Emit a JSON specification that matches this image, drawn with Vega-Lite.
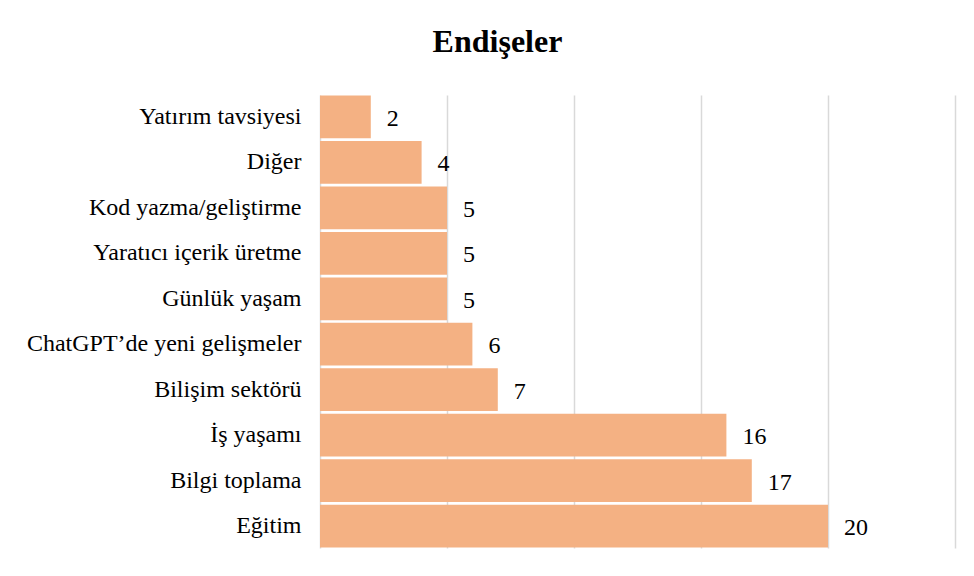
{
  "$schema": "https://vega.github.io/schema/vega-lite/v6.json",
  "width": 635,
  "height": 453,
  "autosize": {"type": "none"},
  "padding": {"left": 320, "top": 95, "right": 19, "bottom": 28},
  "background": "white",
  "title": {
    "text": "Endişeler",
    "font": "Liberation Serif",
    "fontSize": 32,
    "fontWeight": "bold",
    "color": "#000000",
    "anchor": "middle",
    "frame": "group",
    "dx": -140,
    "offset": 36
  },
  "data": {
    "values": [
      {"kategori": "Yatırım tavsiyesi", "deger": 2},
      {"kategori": "Diğer", "deger": 4},
      {"kategori": "Kod yazma/geliştirme", "deger": 5},
      {"kategori": "Yaratıcı içerik üretme", "deger": 5},
      {"kategori": "Günlük yaşam", "deger": 5},
      {"kategori": "ChatGPT’de yeni gelişmeler", "deger": 6},
      {"kategori": "Bilişim sektörü", "deger": 7},
      {"kategori": "İş yaşamı", "deger": 16},
      {"kategori": "Bilgi toplama", "deger": 17},
      {"kategori": "Eğitim", "deger": 20}
    ]
  },
  "encoding": {
    "y": {
      "field": "kategori",
      "type": "nominal",
      "sort": null,
      "scale": {"paddingInner": 0.06, "paddingOuter": 0.01},
      "axis": {
        "title": null,
        "ticks": false,
        "domain": false,
        "labelFont": "Liberation Serif",
        "labelFontSize": 24,
        "labelColor": "#000000",
        "labelPadding": 19,
        "labelLimit": 400
      }
    },
    "x": {
      "field": "deger",
      "type": "quantitative",
      "scale": {"domain": [0, 25], "nice": false},
      "axis": {
        "title": null,
        "values": [0, 5, 10, 15, 20, 25],
        "labels": false,
        "ticks": false,
        "domain": false,
        "grid": true,
        "gridColor": "#d9d9d9",
        "gridWidth": 1.5
      }
    }
  },
  "layer": [
    {"mark": {"type": "bar", "color": "#F4B183"}},
    {
      "mark": {
        "type": "text",
        "align": "left",
        "baseline": "middle",
        "dx": 16,
        "dy": 2,
        "font": "Liberation Serif",
        "fontSize": 24,
        "color": "#000000"
      },
      "encoding": {"text": {"field": "deger", "type": "quantitative"}}
    }
  ],
  "config": {"view": {"stroke": null}}
}
